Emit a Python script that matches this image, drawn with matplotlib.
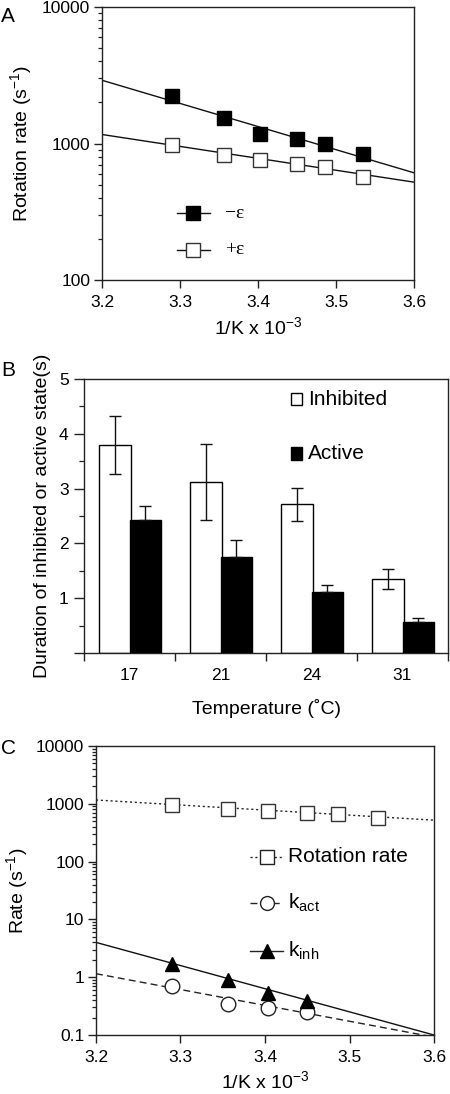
import numpy as np
import matplotlib
matplotlib.use("Agg")
import matplotlib.pyplot as plt
from matplotlib.lines import Line2D
from matplotlib.patches import Rectangle
from matplotlib.ticker import FixedLocator, FixedFormatter, LogLocator, NullFormatter, MultipleLocator

plt.rcParams['font.family'] = ['Liberation Sans', 'DejaVu Sans']
plt.rcParams['mathtext.fontset'] = 'custom'
plt.rcParams['mathtext.rm'] = 'Liberation Sans'
plt.rcParams['mathtext.it'] = 'Liberation Sans:italic'
plt.rcParams['mathtext.default'] = 'regular'

# ---------------- data ----------------
# Panel A
invT = [3.290, 3.356, 3.403, 3.450, 3.486, 3.534]
rate_minus_eps = [2220, 1540, 1165, 1070, 985, 840]
rate_plus_eps = [967, 822, 756, 706, 674, 567]
fit_x = [3.2, 3.6]
fit_minus_eps = [2905, 610]
fit_plus_eps = [1164, 521]

# Panel B
temps = ['17', '21', '24', '31']
inhibited = [3.80, 3.12, 2.71, 1.35]
inhibited_err = [0.53, 0.69, 0.31, 0.18]
active = [2.42, 1.75, 1.11, 0.57]
active_err = [0.27, 0.31, 0.14, 0.06]

# Panel C
invT_k = [3.290, 3.356, 3.403, 3.450]
k_act = [0.70, 0.346, 0.291, 0.248]
k_inh = [1.66, 0.90, 0.54, 0.395]
fit_k_act = [1.15, 0.092]
fit_k_inh = [4.0, 0.10]

W, H = 450, 1094
fig = plt.figure(figsize=(W / 100, H / 100), dpi=100)

def fx(px):
    return px / W

def fy(py):
    return 1 - py / H

spine_c = '#222222'
tick_fs = 12.5
label_fs = 14

def style_axes(ax):
    for s in ax.spines.values():
        s.set_color(spine_c)
        s.set_linewidth(1.0)
    ax.tick_params(which='major', direction='out', length=5.5, width=1.0, color=spine_c,
                   labelsize=tick_fs, pad=3)
    ax.tick_params(which='minor', direction='out', length=2.8, width=0.9, color=spine_c)
    ax.tick_params(axis='x', which='major', pad=5)

# ---------------- Panel A ----------------
axA = fig.add_axes([fx(102), fy(280), fx(414 - 102), (280 - 7) / H])
axA.set_yscale('log')
axA.plot(fit_x, fit_minus_eps, color='#111111', lw=1.0)
axA.plot(fit_x, fit_plus_eps, color='#111111', lw=1.0)
axA.plot(invT, rate_minus_eps, 's', ms=9.5, mfc='black', mec='black', mew=1.0, zorder=3)
axA.plot(invT, rate_plus_eps, 's', ms=9.5, mfc='white', mec='#333333', mew=1.0, zorder=3)
axA.set_xlim(3.2, 3.6)
axA.set_ylim(100, 10000)
axA.set_xticks([3.2, 3.3, 3.4, 3.5, 3.6])
axA.set_xticklabels(['3.2', '3.3', '3.4', '3.5', '3.6'])
axA.yaxis.set_major_locator(FixedLocator([100, 1000, 10000]))
axA.yaxis.set_major_formatter(FixedFormatter(['100', '1000', '10000']))
axA.yaxis.set_minor_locator(LogLocator(base=10, subs=np.arange(2, 10)))
axA.yaxis.set_minor_formatter(NullFormatter())
style_axes(axA)
axA.set_xlabel('1/K x 10$^{-3}$', fontsize=label_fs, labelpad=5)
axA.set_ylabel('Rotation rate (s$^{-1}$)', fontsize=label_fs, labelpad=6)
# legend (manual)
for yy, fc, lab in [(0.245, 'black', '\u2212\u03b5'), (0.110, 'white', '+\u03b5')]:
    axA.add_line(Line2D([0.240, 0.345], [yy, yy], transform=axA.transAxes, color='#111111', lw=1.0))
    axA.add_line(Line2D([0.2925], [yy], transform=axA.transAxes, marker='s', ms=9.5,
                        mfc=fc, mec='#333333' if fc == 'white' else 'black', mew=1.0, ls='none'))
    axA.text(0.393, yy, lab, transform=axA.transAxes, fontsize=14, va='center', ha='left',
             family=['Liberation Serif', 'DejaVu Serif'])
fig.text(fx(1), fy(16), 'A', fontsize=15, va='center', ha='left')

# ---------------- Panel B ----------------
axB = fig.add_axes([fx(84), fy(653), fx(448 - 84), (653 - 379) / H])
x = np.arange(len(temps))
bw = 0.35
axB.bar(x - 0.16, inhibited, bw, color='white', edgecolor='black', linewidth=1.0, zorder=2)
axB.errorbar(x - 0.16, inhibited, yerr=inhibited_err, fmt='none', ecolor='#111111',
             elinewidth=1.0, capsize=4.5, capthick=1.0, zorder=3)
axB.bar(x + 0.175, active, bw, color='black', edgecolor='black', linewidth=1.0, zorder=4)
axB.errorbar(x + 0.175, active, yerr=[np.zeros(len(active)), active_err], fmt='none',
             ecolor='#111111', elinewidth=1.0, capsize=4.5, capthick=1.0, zorder=5)
axB.set_xlim(-0.5, len(temps) - 0.5)
axB.set_ylim(0, 5)
axB.set_xticks(np.arange(len(temps) + 1) - 0.5)
axB.set_xticklabels([''] * (len(temps) + 1))
axB.set_xticks(x, minor=True)
axB.set_xticklabels(temps, minor=True)
axB.yaxis.set_major_locator(FixedLocator([0, 1, 2, 3, 4, 5]))
axB.yaxis.set_major_formatter(FixedFormatter(['', '1', '2', '3', '4', '5']))
axB.yaxis.set_minor_locator(MultipleLocator(0.5))
style_axes(axB)
axB.tick_params(axis='y', which='major', length=7, pad=4)
axB.tick_params(axis='y', which='minor', length=3.5)
axB.tick_params(axis='x', which='major', length=6)
axB.tick_params(axis='x', which='minor', length=0, labelsize=tick_fs, pad=11)
axB.set_xlabel('Temperature (\u02daC)', fontsize=label_fs, labelpad=11)
axB.set_ylabel('Duration of inhibited or active state(s)', fontsize=label_fs, labelpad=6)
for yy, fc, lab in [(0.927, 'white', 'Inhibited'), (0.728, 'black', 'Active')]:
    axB.add_patch(Rectangle((0.584 - 0.015, yy - 0.0235), 0.030, 0.047, transform=axB.transAxes,
                            facecolor=fc, edgecolor='black', lw=1.0))
    axB.text(0.615, yy, lab, transform=axB.transAxes, fontsize=15, va='center', ha='left')
fig.text(fx(1), fy(370), 'B', fontsize=15, va='center', ha='left')

# ---------------- Panel C ----------------
axC = fig.add_axes([fx(96), fy(1035), fx(434 - 96), (1035 - 746) / H])
axC.set_yscale('log')
axC.plot(fit_x, fit_plus_eps, color='#222222', lw=1.0, ls=(0, (1.5, 2)))
axC.plot(fit_x, fit_k_act, color='#222222', lw=1.0, ls=(0, (5, 3)))
axC.plot(fit_x, fit_k_inh, color='#111111', lw=1.0)
axC.plot(invT, rate_plus_eps, 's', ms=10, mfc='white', mec='#333333', mew=1.0, zorder=3)
axC.plot(invT_k, k_act, 'o', ms=10.5, mfc='white', mec='#222222', mew=1.0, zorder=3)
axC.plot(invT_k, k_inh, '^', ms=9.5, mfc='black', mec='black', mew=1.0, zorder=4)
axC.set_xlim(3.2, 3.6)
axC.set_ylim(0.1, 10000)
axC.set_xticks([3.2, 3.3, 3.4, 3.5, 3.6])
axC.set_xticklabels(['3.2', '3.3', '3.4', '3.5', '3.6'])
axC.yaxis.set_major_locator(FixedLocator([0.1, 1, 10, 100, 1000, 10000]))
axC.yaxis.set_major_formatter(FixedFormatter(['0.1', '1', '10', '100', '1000', '10000']))
axC.yaxis.set_minor_locator(LogLocator(base=10, subs=np.arange(2, 10)))
axC.yaxis.set_minor_formatter(NullFormatter())
style_axes(axC)
axC.set_xlabel('1/K x 10$^{-3}$', fontsize=label_fs, labelpad=4)
axC.set_ylabel('Rate (s$^{-1}$)', fontsize=label_fs, labelpad=4)
legC = [
    (0.617, (0, (1.5, 2)), 's', 'white', 'Rotation rate'),
    (0.456, (0, (5, 3)), 'o', 'white', 'k$_{act}$'),
    (0.292, '-', '^', 'black', 'k$_{inh}$'),
]
for yy, ls, mk, fc, lab in legC:
    axC.add_line(Line2D([0.456, 0.552], [yy, yy], transform=axC.transAxes, color='#222222',
                        lw=1.0, ls=ls))
    axC.add_line(Line2D([0.505], [yy], transform=axC.transAxes, marker=mk, ms=10 if mk != '^' else 9.5,
                        mfc=fc, mec='#222222' if fc == 'white' else 'black', mew=1.0, ls='none'))
    axC.text(0.568, yy, lab, transform=axC.transAxes, fontsize=15, va='center', ha='left')
fig.text(fx(1), fy(748), 'C', fontsize=15, va='center', ha='left')

fig.savefig('out.png', dpi=100)
